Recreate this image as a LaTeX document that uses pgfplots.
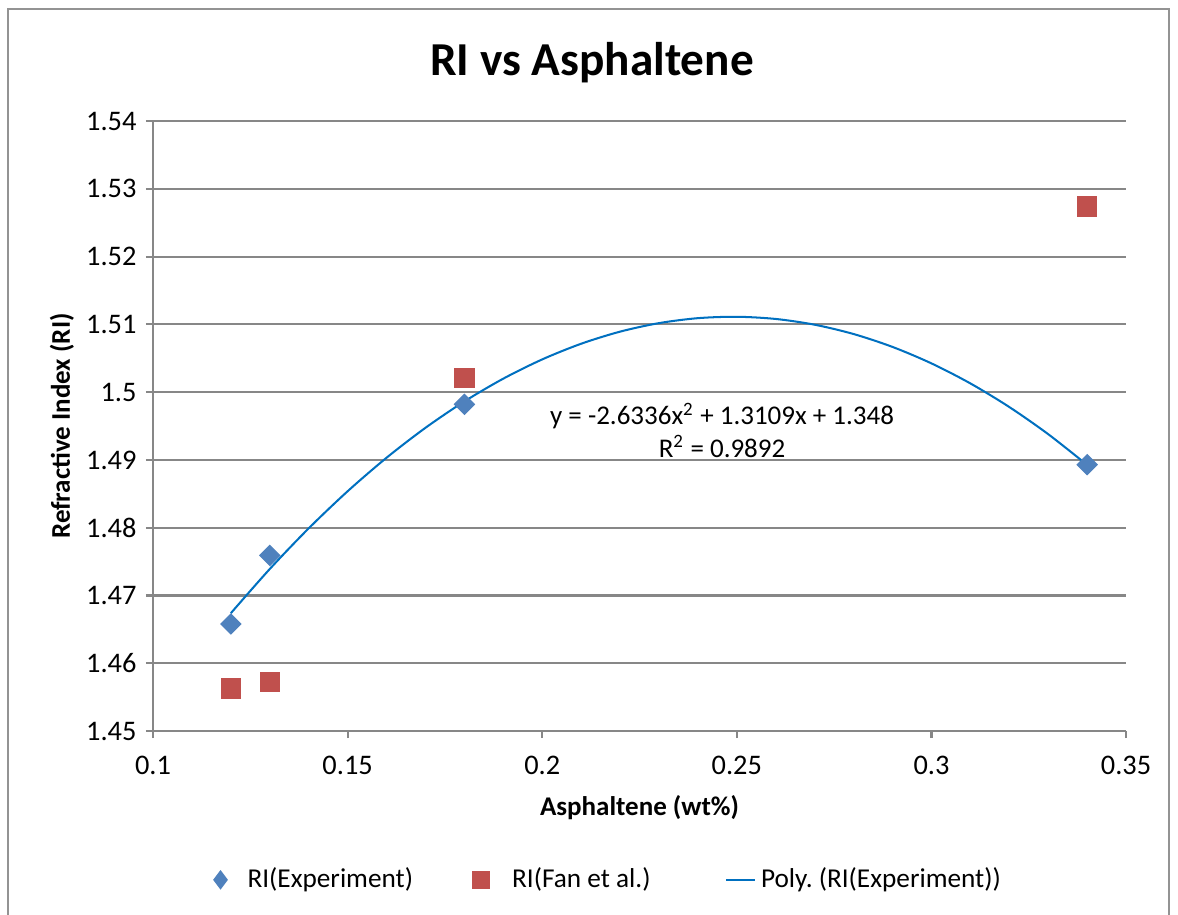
\documentclass[border=0pt]{standalone}
\usepackage{pgfplots}
\pgfplotsset{compat=1.18}
\usepackage{fontspec}
\setmainfont{Carlito}
\definecolor{expblue}{HTML}{4F81BD}
\definecolor{fanred}{HTML}{C0504D}
\definecolor{trendblue}{HTML}{0070C0}
\definecolor{gridgray}{HTML}{878787}
\begin{document}
\begin{tikzpicture}
\begin{scope}[x=0.37037pt,y=0.37037pt]
\useasboundingbox (0,0) rectangle (1178,914);
\draw[gridgray!90, line width=0.8pt] (8,-10) -- (8,905) -- (1169,905) -- (1169,-10);
\node[font=\fontsize{17.5}{20}\selectfont\bfseries] at (592,851) {RI vs Asphaltene};
\end{scope}
\begin{axis}[
  at={(56.67pt,67.78pt)}, anchor=south west,
  scale only axis, width=360.4pt, height=225.9pt,
  xmin=0.1, xmax=0.35, ymin=1.45, ymax=1.54,
  xtick={0.1,0.15,...,0.351}, ytick={1.45,1.46,...,1.541},
  axis lines*=left,
  axis line style={gridgray, line width=0.8pt},
  ymajorgrids, grid style={gridgray, line width=0.8pt},
  tick align=outside, major tick length=2.6pt,
  tick style={gridgray, line width=0.8pt},
  /pgf/number format/assume math mode=true,
  /pgf/number format/.cd, fixed, precision=3, /pgfplots/.cd,
  yticklabel style={/pgf/number format/precision=2},
  xticklabel style={yshift=-3pt},
  ticklabel style={font=\fontsize{10.5}{12}\selectfont},
  xlabel={Asphaltene (wt\%)}, ylabel={Refractive Index (RI)},
  label style={font=\fontsize{10}{12}\selectfont\bfseries},
  xlabel style={at={(axis description cs:0.5,-0.126)}, anchor=center},
  ylabel style={at={(axis description cs:-0.0935,0.5)}, anchor=center},
  clip=false,
  legend columns=3,
  legend style={at={(axis description cs:0.469,-0.244)}, anchor=center, draw=none,
    font=\fontsize{10.1}{12}\selectfont,
    /tikz/every even column/.append style={column sep=20pt}},
]
\addplot[only marks, mark=square*, mark size=2.62pt, mark options={rotate=45, fill=expblue, draw=expblue},
  legend image code/.code={\draw[mark=diamond*, mark size=3.3pt, mark options={fill=expblue, draw=expblue}] plot coordinates {(0.3em,0)}; \path[draw=none] (0,0) -- (0.3em+8pt,0);}]
  coordinates {(0.12,1.4658) (0.13,1.4759) (0.18,1.4982) (0.34,1.4893)};
\addlegendentry{RI(Experiment)}
\addplot[only marks, mark=square*, mark size=3.6pt, mark options={fill=fanred, draw=fanred},
  legend image code/.code={\draw[mark=square*, mark size=3.2pt, mark options={fill=fanred, draw=fanred}] plot coordinates {(0.3em,0)}; \path[draw=none] (0,0) -- (0.3em+9.5pt,0);}]
  coordinates {(0.12,1.4563) (0.13,1.4572) (0.18,1.5021) (0.34,1.5274)};
\addlegendentry{RI(Fan et al.)}
\addplot[trendblue, line width=0.75pt, smooth, no marks,
  legend image code/.code={\path[draw=none] (-6pt,0) -- (0,0); \draw[trendblue, line width=0.75pt] (0,0) -- (10.5pt,0);}]
  coordinates {
(0.12,1.467384) (0.13,1.473909) (0.14,1.479907) (0.15,1.485379) (0.16,1.490324)
(0.17,1.494742) (0.18,1.498633) (0.19,1.501998) (0.20,1.504836) (0.21,1.507147)
(0.22,1.508932) (0.23,1.510190) (0.24,1.510921) (0.25,1.511125) (0.26,1.510803)
(0.27,1.509954) (0.28,1.508578) (0.29,1.506675) (0.30,1.504246) (0.31,1.501290)
(0.32,1.497807) (0.33,1.493798) (0.34,1.489262)};
\addlegendentry{Poly.\ (RI(Experiment))}
\node[align=center, font=\fontsize{10}{12}\selectfont, inner sep=0pt] at (axis cs:0.2462,1.4944)
  {y = -2.6336x\textsuperscript{2} + 1.3109x + 1.348\\R\textsuperscript{2} = 0.9892};
\end{axis}
\end{tikzpicture}
\end{document}
